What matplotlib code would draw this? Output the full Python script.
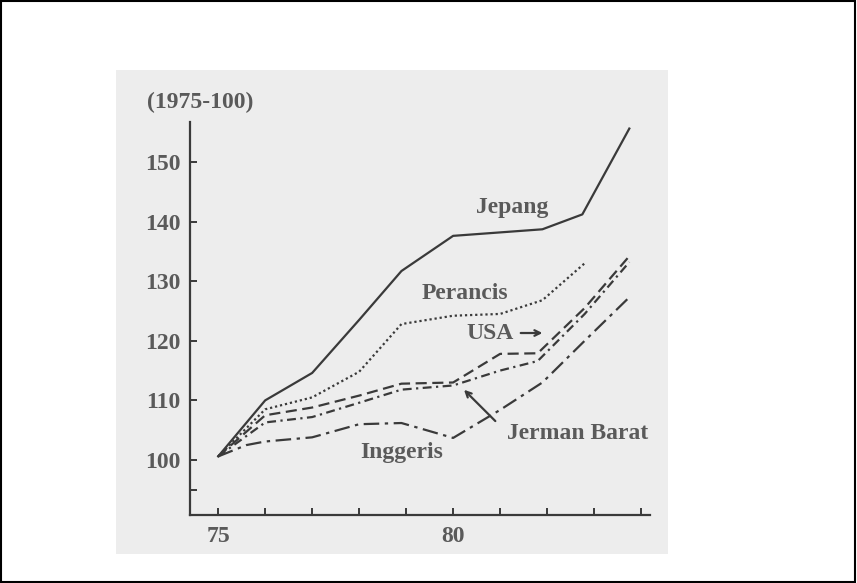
import numpy as np
import matplotlib.pyplot as plt
from matplotlib.patches import Rectangle

# Index (1975 = 100)
years_jepang = [75, 76, 77, 78, 78.9, 80, 81.9, 82.75, 83.75]
jepang = [100.6, 110.0, 114.6, 123.5, 131.7, 137.6, 138.7, 141.2, 155.6]

years_perancis = [75, 76, 77, 78, 78.9, 80, 81, 81.9, 82.8]
perancis = [100.6, 108.5, 110.5, 114.8, 122.8, 124.2, 124.5, 126.8, 133.0]

years_usa = [75, 76, 77, 78, 78.9, 80, 81, 81.8, 82.8, 83.75]
usa = [100.6, 107.5, 108.8, 110.8, 112.8, 113.0, 117.8, 117.9, 125.5, 134.2]

years_jerman = [75, 76, 77, 78, 78.9, 80, 81, 81.8, 82.8, 83.75]
jerman_barat = [100.6, 106.3, 107.2, 109.6, 111.8, 112.5, 115.0, 116.6, 124.5, 133.2]

years_inggeris = [75, 75.6, 76, 77, 78, 78.9, 79.3, 80, 81, 81.9, 82.8, 83.75]
inggeris = [100.6, 102.5, 103.1, 103.8, 106.0, 106.2, 105.3, 103.7, 108.4, 113.0, 120.0, 127.3]

x_ticks = list(range(75, 85))
x_labels = ['75', '', '', '', '', '80', '', '', '', '']
y_ticks = [95, 100, 110, 120, 130, 140, 150]
y_labels = ['', '100', '110', '120', '130', '140', '150']

ink = '#3a3a3a'
txt = '#5a5a5a'
font = 'Liberation Serif'

W, H = 857, 583
fig = plt.figure(figsize=(W / 100, H / 100), dpi=100)
fig.patch.set_facecolor('white')

# scanned page area and outer frame
fig.patches.append(Rectangle((116 / W, (H - 554) / H), (668 - 116) / W, (554 - 70) / H,
                             transform=fig.transFigure, facecolor='#ededed',
                             edgecolor='none', zorder=-5))
fig.patches.append(Rectangle((0.001, 0.001), 0.997, 0.997, transform=fig.transFigure,
                             facecolor='none', edgecolor='black', linewidth=1.5, zorder=5))

ax = fig.add_axes([190 / W, (H - 515) / H, 460 / W, 393 / H])
ax.set_facecolor('none')
ax.set_zorder(1)

lw = 1.6
ax.plot(years_jepang, jepang, color=ink, lw=lw, linestyle='-')
ax.plot(years_perancis, perancis, color=ink, lw=lw, linestyle=(0, (1, 1.3)))
ax.plot(years_usa, usa, color=ink, lw=lw, linestyle=(0, (5, 2.5)))
ax.plot(years_jerman, jerman_barat, color=ink, lw=lw, linestyle=(0, (4, 2, 1, 2)))
ax.plot(years_inggeris, inggeris, color=ink, lw=lw, linestyle=(0, (7, 2.5, 1.5, 2.5)))

ax.set_xlim(74.40, 84.19)
ax.set_ylim(90.77, 156.7)
ax.set_xticks(x_ticks)
ax.set_xticklabels(x_labels)
ax.set_yticks(y_ticks)
ax.set_yticklabels(y_labels)

for side in ['top', 'right']:
    ax.spines[side].set_visible(False)
for side in ['left', 'bottom']:
    ax.spines[side].set_color(ink)
    ax.spines[side].set_linewidth(1.6)
ax.tick_params(direction='in', length=5, width=1.4, color=ink,
               labelcolor=txt, labelsize=17)
ax.tick_params(axis='x', pad=8)
ax.tick_params(axis='y', pad=7)
for lab in ax.get_xticklabels() + ax.get_yticklabels():
    lab.set_family(font)
    lab.set_fontweight('bold')

kw = dict(color=txt, fontsize=17, family=font, fontweight='bold',
          ha='center', va='center')
ax.text(74.62, 159.9, '(1975-100)', clip_on=False, **kw)
ax.text(81.26, 142.4, 'Jepang', **kw)
ax.text(80.26, 128.0, 'Perancis', **kw)
ax.text(80.79, 121.3, 'USA', **kw)
ax.text(82.66, 104.5, 'Jerman Barat', **kw)
ax.text(78.91, 101.2, 'Inggeris', **kw)

ax.annotate('', xy=(81.96, 121.3), xytext=(81.38, 121.3),
            arrowprops=dict(arrowstyle='->', color=ink, lw=1.6))
ax.annotate('', xy=(80.19, 112.1), xytext=(80.94, 106.2),
            arrowprops=dict(arrowstyle='->', color=ink, lw=1.6))

fig.savefig('out.png', dpi=100)
